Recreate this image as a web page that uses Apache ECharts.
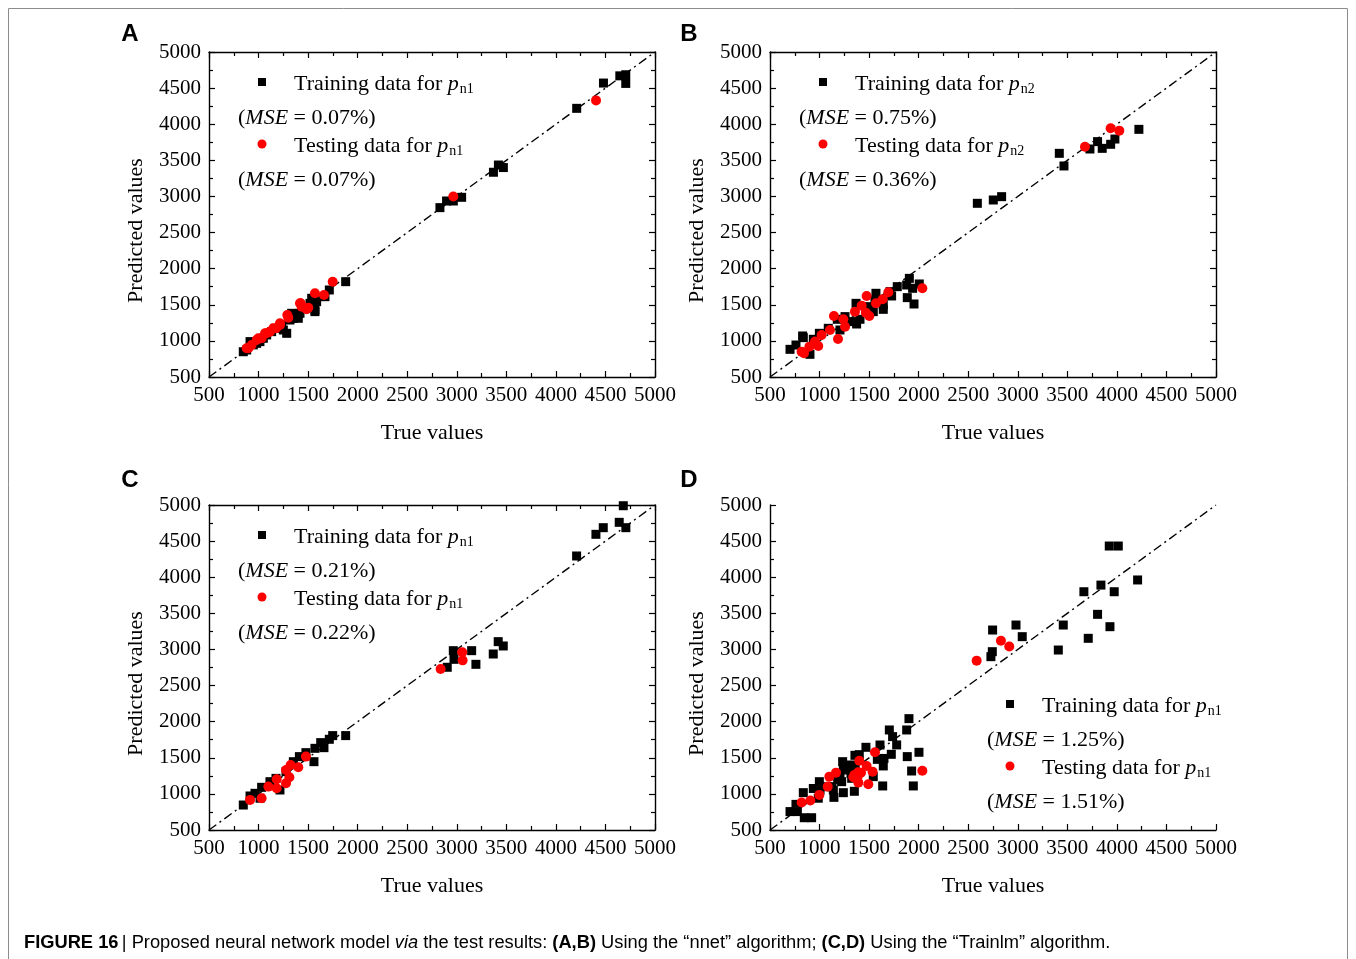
<!DOCTYPE html>
<html>
<head>
<meta charset="utf-8">
<script src="https://cdn.jsdelivr.net/npm/echarts@6/dist/echarts.min.js"></script>
<style>
html,body{margin:0;padding:0;background:#fff;}
#chart{width:1356px;height:959px;}
</style>
</head>
<body>
<div id="chart"></div>
<script>
// ---- data (true value, predicted value) ----
const axisTicks = [500, 1000, 1500, 2000, 2500, 3000, 3500, 4000, 4500, 5000];
const panelLetters = ['A', 'B', 'C', 'D'];
const mseTrain = ['0.07%', '0.75%', '0.21%', '1.25%'];
const mseTest = ['0.07%', '0.36%', '0.22%', '1.51%'];
const subLabels = ['n1', 'n2', 'n1', 'n1'];

const trainA = [[846,850],[880,874],[914,990],[947,945],[981,966],[1014,990],[1048,1036],[1082,1082],[1132,1128],[1166,1174],[1233,1220],[1250,1151],[1284,1105],[1317,1289],[1334,1382],[1351,1313],[1401,1313],[1418,1382],[1519,1520],[1552,1497],[1569,1428],[1586,1543],[1569,1405],[1536,1590],[1670,1612],[1714,1705],[1879,1820],[2830,2845],[2897,2937],[2965,2937],[3049,2988],[3370,3335],[3420,3435],[3470,3400],[4210,4220],[4480,4570],[4645,4670],[4705,4685],[4705,4565]];
const testA = [[880,897],[897,897],[930,943],[981,1013],[998,1035],[1031,1036],[1065,1105],[1082,1105],[1115,1128],[1149,1174],[1176,1174],[1216,1220],[1216,1243],[1290,1358],[1300,1322],[1418,1520],[1425,1520],[1435,1474],[1485,1437],[1502,1460],[1569,1659],[1660,1636],[1748,1820],[2965,3000],[4405,4330]];

const trainB = [[702,883],[762,943],[829,1068],[836,1045],[903,814],[937,1022],[998,1105],[1088,1174],[1179,1299],[1206,1151],[1257,1336],[1324,1267],[1368,1520],[1374,1234],[1408,1299],[1492,1474],[1542,1405],[1559,1566],[1569,1659],[1643,1497],[1643,1437],[1711,1682],[1727,1622],[1784,1751],[1879,1774],[1885,1599],[1906,1866],[1939,1728],[1953,1511],[2006,1788],[2592,2905],[2753,2951],[2837,2997],[3419,3597],[3466,3422],[3728,3657],[3805,3759],[3852,3666],[3937,3722],[3980,3795],[4222,3929]];
const testB = [[819,851],[843,828],[897,920],[954,990],[987,930],[1021,1082],[1105,1151],[1145,1345],[1186,1026],[1240,1299],[1257,1197],[1357,1405],[1425,1488],[1467,1391],[1475,1622],[1502,1345],[1569,1520],[1637,1576],[1694,1673],[2037,1728],[3678,3689],[3937,3943],[4024,3911]];

const trainC = [[846,846],[914,971],[964,1008],[1015,940],[1031,1091],[1115,1169],[1176,1215],[1216,1054],[1277,1308],[1351,1446],[1412,1516],[1478,1571],[1559,1446],[1569,1631],[1627,1710],[1660,1640],[1714,1756],[1748,1807],[1879,1807],[2904,2753],[2965,2983],[2972,2863],[3150,2983],[3193,2794],[3368,2937],[3418,3108],[3469,3048],[4209,4294],[4404,4594],[4478,4686],[4639,4760],[4680,4990],[4706,4686]];
const testC = [[914,917],[1031,940],[1099,1101],[1183,1078],[1183,1202],[1277,1147],[1277,1331],[1311,1230],[1324,1400],[1401,1368],[1478,1516],[2837,2729],[3055,2960],[3059,2849]];

const trainD = [[702,755],[762,855],[776,755],[836,1017],[846,670],[920,670],[937,1075],[987,940],[998,1169],[1005,1054],[1072,1100],[1122,1100],[1139,1054],[1145,952],[1183,1193],[1206,1239],[1223,1169],[1233,1446],[1240,1331],[1240,1017],[1257,1377],[1274,1400],[1317,1285],[1324,1216],[1351,1036],[1357,1534],[1360,1400],[1401,1543],[1468,1645],[1542,1239],[1583,1478],[1610,1677],[1637,1110],[1643,1387],[1650,1491],[1704,1885],[1724,1548],[1737,1793],[1778,1678],[1879,1885],[1885,1516],[1902,2042],[1929,1317],[1946,1110],[2003,1576],[2729,2900],[2743,2969],[2746,3269],[2982,3338],[3045,3177],[3409,2992],[3459,3338],[3667,3799],[3711,3154],[3805,3486],[3839,3891],[3923,4432],[3930,3315],[3973,3799],[4014,4432],[4209,3962]];
const testD = [[819,882],[907,908],[998,986],[1082,1101],[1099,1239],[1166,1294],[1341,1230],[1351,1262],[1384,1239],[1390,1300],[1391,1156],[1401,1460],[1418,1294],[1475,1386],[1492,1133],[1535,1308],[1559,1576],[2037,1321],[2585,2845],[2830,3120],[2914,3040]];

const refLine = [[500,500],[5000,5000]];

const trainSets = [trainA, trainB, trainC, trainD];
const testSets = [testA, testB, testC, testD];

// ---- layout ----
const SERIF = '"Liberation Serif", "Times New Roman", serif';
const SANS = '"Liberation Sans", Arial, sans-serif';
const grids = [
  {left: 209, top: 52, width: 446, height: 325},
  {left: 770, top: 52, width: 446, height: 325},
  {left: 209, top: 505, width: 446, height: 325},
  {left: 770, top: 505, width: 446, height: 325}
];
const boxed = [true, true, true, false];

const chart = echarts.init(document.getElementById('chart'), null, {renderer: 'canvas'});

const xAxes = [], yAxes = [], series = [];
const baseAxis = {
  type: 'value', min: axisTicks[0], max: axisTicks[axisTicks.length - 1],
  interval: axisTicks[1] - axisTicks[0],
  splitLine: {show: false},
  axisLine: {show: true, onZero: false, lineStyle: {color: '#000', width: 1.4}},
  axisTick: {show: true, inside: true, length: 6, lineStyle: {color: '#000', width: 1.2}},
  minorTick: {show: true, splitNumber: 2, length: 4, lineStyle: {color: '#000', width: 1.2}},
  minorSplitLine: {show: false}
};
grids.forEach((g, i) => {
  xAxes.push(Object.assign({}, baseAxis, {
    gridIndex: i, position: 'bottom',
    name: 'True values', nameLocation: 'middle', nameGap: 45,
    nameTextStyle: {fontFamily: SERIF, fontSize: 22, color: '#000'},
    axisLabel: {fontFamily: SERIF, fontSize: 21, color: '#000', margin: 8,
      formatter: v => String(v)}
  }));
  yAxes.push(Object.assign({}, baseAxis, {
    gridIndex: i, position: 'left',
    name: 'Predicted values', nameLocation: 'middle', nameGap: 62,
    nameTextStyle: {fontFamily: SERIF, fontSize: 22, color: '#000', padding: [0, 32, 0, 0]},
    axisLabel: {fontFamily: SERIF, fontSize: 21, color: '#000', margin: 8,
      formatter: v => String(v)}
  }));
});
grids.forEach((g, i) => {
  if (!boxed[i]) return;
  xAxes.push(Object.assign({}, baseAxis, {gridIndex: i, position: 'top', axisLabel: {show: false}}));
  yAxes.push(Object.assign({}, baseAxis, {gridIndex: i, position: 'right', axisLabel: {show: false}}));
});

grids.forEach((g, i) => {
  series.push({
    type: 'line', xAxisIndex: i, yAxisIndex: i, data: refLine, symbol: 'none',
    silent: true, z: 1,
    lineStyle: {color: '#000', width: 1.4, type: [9, 4, 2, 4]}
  });
  series.push({
    type: 'scatter', xAxisIndex: i, yAxisIndex: i, data: trainSets[i],
    symbol: 'rect', symbolSize: 9, itemStyle: {color: '#000', opacity: 1}, z: 2
  });
  series.push({
    type: 'scatter', xAxisIndex: i, yAxisIndex: i, data: testSets[i],
    symbol: 'circle', symbolSize: 10, itemStyle: {color: '#ff0000', opacity: 1}, z: 3
  });
});

// legends (drawn as graphics)
const legendPos = [
  {mx: 262, my: 82, tx: 294, mseX: 238},
  {mx: 823, my: 82, tx: 855, mseX: 799},
  {mx: 262, my: 535, tx: 294, mseX: 238},
  {mx: 1010, my: 704, tx: 1042, mseX: 987}
];
const rich = {
  i: {fontFamily: SERIF, fontSize: 22, fontStyle: 'italic', color: '#000'},
  s: {fontFamily: SERIF, fontSize: 14, color: '#000', padding: [11, 0, 0, 1]},
  n: {fontFamily: SERIF, fontSize: 22, color: '#000'}
};
const graphics = [];
legendPos.forEach((p, i) => {
  const step = 31;
  graphics.push({type: 'rect', shape: {x: p.mx - 4, y: p.my - 4, width: 8, height: 8}, style: {fill: '#000'}});
  graphics.push({type: 'text', x: p.tx, y: p.my + 2, style: {
    text: '{n|Training data for }{i|p}{s|' + subLabels[i] + '}', rich: rich,
    verticalAlign: 'middle', align: 'left'}});
  graphics.push({type: 'text', x: p.mseX, y: p.my + 36, style: {
    text: '{n|(}{i|MSE}{n| = ' + mseTrain[i] + ')}', rich: rich, verticalAlign: 'middle', align: 'left'}});
  graphics.push({type: 'circle', shape: {cx: p.mx, cy: p.my + 2 * step, r: 4.5}, style: {fill: '#ff0000'}});
  graphics.push({type: 'text', x: p.tx, y: p.my + 2 * step + 2, style: {
    text: '{n|Testing data for }{i|p}{s|' + subLabels[i] + '}', rich: rich,
    verticalAlign: 'middle', align: 'left'}});
  graphics.push({type: 'text', x: p.mseX, y: p.my + 2 * step + 36, style: {
    text: '{n|(}{i|MSE}{n| = ' + mseTest[i] + ')}', rich: rich, verticalAlign: 'middle', align: 'left'}});
});
// panel letters
const letterPos = [[130, 34], [689, 34], [130, 480], [689, 480]];
panelLetters.forEach((L, i) => {
  graphics.push({type: 'text', x: letterPos[i][0], y: letterPos[i][1], style: {
    text: L, font: 'bold 24px ' + SANS, fill: '#000', align: 'center', verticalAlign: 'middle'}});
});
// outer frame
graphics.push({type: 'polyline', shape: {points: [[8.5, 970], [8.5, 8.5], [1347.5, 8.5], [1347.5, 970]]},
  style: {stroke: '#8c8c8c', fill: null, lineWidth: 1}});
// caption
graphics.push({type: 'text', x: 24, y: 943, style: {
  text: '{b|FIGURE 16} {r|| Proposed neural network model }{it|via}{r| the test results: }{b|(A,B)}{r| Using the \u201Cnnet\u201D algorithm; }{b|(C,D)}{r| Using the \u201CTrainlm\u201D algorithm.}',
  verticalAlign: 'middle', align: 'left',
  rich: {
    b: {fontFamily: SANS, fontSize: 18.3, fontWeight: 'bold', color: '#1a1a1a'},
    r: {fontFamily: SANS, fontSize: 18.3, color: '#333'},
    it: {fontFamily: SANS, fontSize: 18.3, fontStyle: 'italic', color: '#333'}
  }}});

chart.setOption({
  animation: false,
  backgroundColor: '#fff',
  grid: grids.map(g => Object.assign({containLabel: false}, g)),
  xAxis: xAxes,
  yAxis: yAxes,
  series: series,
  graphic: graphics
});
</script>
</body>
</html>
